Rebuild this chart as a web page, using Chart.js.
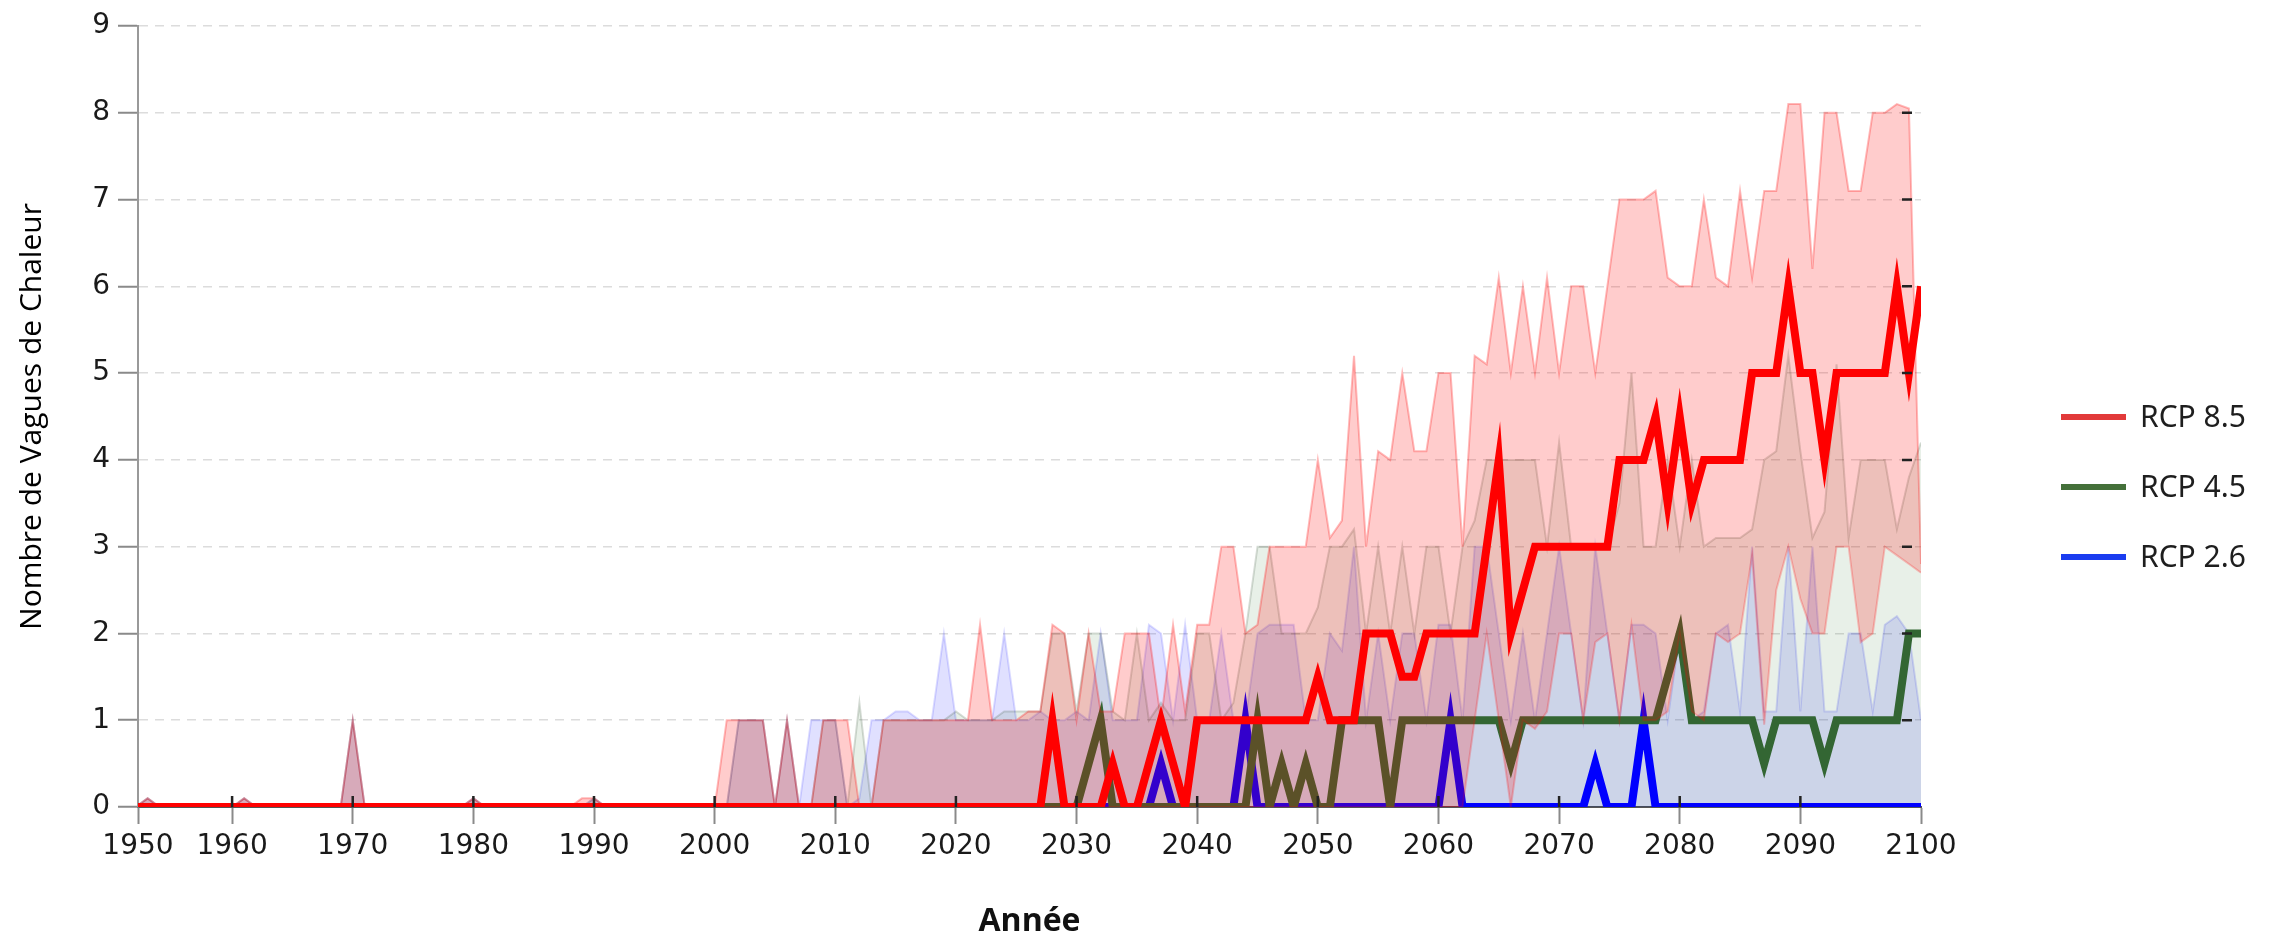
<!DOCTYPE html>
<html>
<head>
<meta charset="utf-8">
<script src="https://cdn.jsdelivr.net/npm/chart.js@4.4.1/dist/chart.umd.min.js"></script>
<style>
html,body{margin:0;padding:0;background:#fff;}
#wrap{width:2276px;height:936px;position:relative;}
</style>
</head>
<body>
<div id="wrap"><canvas id="c" width="2276" height="936"></canvas></div>
<script>
// ---------- DATA ----------
const firstYear = 1950, lastYear = 2100;
const years = [];
for (let y = firstYear; y <= lastYear; y++) years.push(y);

const xTickYears  = [1950,1960,1970,1980,1990,2000,2010,2020,2030,2040,2050,2060,2070,2080,2090,2100];
const xTickLabels = ['1950','1960','1970','1980','1990','2000','2010','2020','2030','2040','2050','2060','2070','2080','2090','2100'];
const yTickValues = [0,1,2,3,4,5,6,7,8,9];

const seriesNames = ['RCP 8.5','RCP 4.5','RCP 2.6'];

// RCP 8.5 : median, upper and lower envelope
const r85Med = [
0,0,0,0,0,0,0,0,0,0,
0,0,0,0,0,0,0,0,0,0,
0,0,0,0,0,0,0,0,0,0,
0,0,0,0,0,0,0,0,0,0,
0,0,0,0,0,0,0,0,0,0,
0,0,0,0,0,0,0,0,0,0,
0,0,0,0,0,0,0,0,0,0,
0,0,0,0,0,0,0,0,1,0,
0,0,0,0.5,0,0,0.5,1,0.5,0,
1,1,1,1,1,1,1,1,1,1,
1.5,1,1,1,2,2,2,1.5,1.5,2,
2,2,2,2,3,4,2,2.5,3,3,
3,3,3,3,3,4,4,4,4.5,3.5,
4.5,3.5,4,4,4,4,5,5,5,6,
5,5,4,5,5,5,5,5,6,5,
6];
const r85Max = [
0,0,0,0.1,0,0,0,0,0,0,
0,0.1,0,0,0,0,0,0,0,0,
1,0,0,0,0,0,0,0,0,0,
0.1,0,0,0,0,0,0,0,0,0.1,
0.1,0,0,0,0,0,0,0,0,0,
0,1,1,1,1,0,1,0,0,1,
1,1,0,0,1,1,1,1,1,1,
1,1,2.1,1,1,1,1.1,1.1,2.1,2,
1,2,1.1,1.1,2,2,2,1,2.1,1.1,
2.1,2.1,3,3,2,2.1,3,3,3,3,
4,3.1,3.3,5.2,3,4.1,4,5,4.1,4.1,
5,5,3,5.2,5.1,6.1,5,6,5,6.1,
5,6,6,5,6,7,7,7,7.1,6.1,
6,6,7,6.1,6,7.1,6.1,7.1,7.1,8.1,
8.1,6.2,8,8,7.1,7.1,8,8,8.1,8.05,
2.8];
const r85Min = [
0,0,0,0,0,0,0,0,0,0,
0,0,0,0,0,0,0,0,0,0,
0,0,0,0,0,0,0,0,0,0,
0,0,0,0,0,0,0,0,0,0,
0,0,0,0,0,0,0,0,0,0,
0,0,0,0,0,0,0,0,0,0,
0,0,0,0,0,0,0,0,0,0,
0,0,0,0,0,0,0,0,0,0,
0,0,0,0,0,0,0,0,0,0,
0,0,0,0,0,0,0,0,0,0,
0,0,0,0,0,0,0,0,0,0,
0,0,0,1,2,1,0,1,0.9,1.1,
2,2,1,1.9,2,1,2.1,1,1,1.1,
2,1.1,1,2,1.9,2,2.9,0.95,2.5,3,
2.4,2,2,3,3,1.9,2,3,2.9,2.8,
2.7];

// RCP 4.5 : median and upper envelope (lower envelope = 0)
const r45Med = [
0,0,0,0,0,0,0,0,0,0,
0,0,0,0,0,0,0,0,0,0,
0,0,0,0,0,0,0,0,0,0,
0,0,0,0,0,0,0,0,0,0,
0,0,0,0,0,0,0,0,0,0,
0,0,0,0,0,0,0,0,0,0,
0,0,0,0,0,0,0,0,0,0,
0,0,0,0,0,0,0,0,0,0,
0,0.5,1,0,0,0,0,0,0,0,
0,0,0,0,0,1,0,0.5,0,0.5,
0,0,1,1,1,1,0,1,1,1,
1,1,1,1,1,1,0.5,1,1,1,
1,1,1,1,1,1,1,1,1,1.5,
2,1,1,1,1,1,1,0.5,1,1,
1,1,0.5,1,1,1,1,1,1,2,
2];
const r45Max = [
0,0,0,0.1,0,0,0,0,0,0,
0,0.1,0,0,0,0,0,0,0,0,
1,0,0,0,0,0,0,0,0,0,
0.1,0,0,0,0,0,0,0,0,0,
0.1,0,0,0,0,0,0,0,0,0,
0,0,1,1,1,0,1,0,0,1,
1,0,1.2,0,1,1,1,1,1,1,
1.1,1,1,1,1.1,1.1,1.1,1.1,2,2,
1.1,2,2,1.1,1,2,1,1.2,1,1,
2,2,1,1.2,2,3,3,2,2,2,
2.3,3,3,3.2,2,3,2,3,2,3,
3,2,3,3.3,4,4,4,4,4,3,
4.2,3,3,3,3,3.5,5,3,3,4,
3,4,3,3.1,3.1,3.1,3.2,4,4.1,5.2,
4.1,3.1,3.4,5.1,3.1,4,4,4,3.2,3.8,
4.2];

// RCP 2.6 : median and upper envelope (lower envelope = 0)
const r26Med = [
0,0,0,0,0,0,0,0,0,0,
0,0,0,0,0,0,0,0,0,0,
0,0,0,0,0,0,0,0,0,0,
0,0,0,0,0,0,0,0,0,0,
0,0,0,0,0,0,0,0,0,0,
0,0,0,0,0,0,0,0,0,0,
0,0,0,0,0,0,0,0,0,0,
0,0,0,0,0,0,0,0,0,0,
0,0,0,0,0,0,0,0.5,0,0,
0,0,0,0,1,0,0,0,0,0,
0,0,0,0,0,0,0,0,0,0,
0,1,0,0,0,0,0,0,0,0,
0,0,0,0.5,0,0,0,1,0,0,
0,0,0,0,0,0,0,0,0,0,
0,0,0,0,0,0,0,0,0,0,
0];
const r26Max = [
0,0,0,0.1,0,0,0,0,0,0,
0,0.1,0,0,0,0,0,0,0,0,
1,0,0,0,0,0,0,0,0,0,
0.1,0,0,0,0,0,0,0,0,0,
0.1,0,0,0,0,0,0,0,0,0,
0,0,1,1,1,0,1,0,1,1,
1,0,0.1,1,1,1.1,1.1,1,1,2,
1,1,1,1,2,1,1,1.1,1,1,
1.1,1,2,1,1,1,2.1,2,1,2.1,
1,1,2,1,1,2,2.1,2.1,2.1,1,
1,2,1.8,3,1,2,1,2,2,1,
2.1,2.1,1,3,3,2,1,2,1,2,
3,2,1,3,2,1,2.1,2.1,2,1,
2,1,1.1,2,2.1,1.1,3,1.1,1.1,3,
1.1,3,1.1,1.1,2,2,1.1,2.1,2.2,2,
1];

// ---------- CHART ----------
const pts = arr => years.map((yr, i) => ({x: yr, y: arr[i]}));
const xMin = 1952.2, xMax = 2100;

const legendItems = [
  {label: seriesNames[0], color: '#e23a3a'},
  {label: seriesNames[1], color: '#44703a'},
  {label: seriesNames[2], color: '#1a3cf0'}
];

const sideLegend = {
  id: 'sideLegend',
  afterDraw(chart) {
    const ctx = chart.ctx;
    ctx.save();
    ctx.font = '30px "Noto Sans"';
    ctx.textBaseline = 'middle';
    ctx.textAlign = 'left';
    legendItems.forEach((it, i) => {
      const y = 417 + i * 70;
      ctx.strokeStyle = it.color;
      ctx.lineWidth = 6;
      ctx.beginPath(); ctx.moveTo(2061, y); ctx.lineTo(2126, y); ctx.stroke();
      ctx.fillStyle = '#1e1e1e';
      ctx.fillText(it.label, 2140, y + 1);
    });
    ctx.restore();
  }
};

const innerTicks = {
  id: 'innerTicks',
  afterDatasetsDraw(chart) {
    const ctx = chart.ctx, xs = chart.scales.x, ys = chart.scales.y, ca = chart.chartArea;
    ctx.save();
    ctx.strokeStyle = '#222';
    ctx.lineWidth = 2.5;
    ctx.beginPath();
    xTickYears.forEach(v => {
      if (v <= xMin || v >= xMax) return;
      const px = xs.getPixelForValue(v);
      ctx.moveTo(px, ca.bottom); ctx.lineTo(px, ca.bottom - 11);
    });
    yTickValues.forEach(v => {
      if (v <= 0 || v >= 9) return;
      const py = ys.getPixelForValue(v);
      ctx.moveTo(ca.right - 19, py); ctx.lineTo(ca.right - 9, py);
    });
    ctx.stroke();
    ctx.restore();
  }
};

new Chart(document.getElementById('c'), {
  type: 'line',
  data: {
    datasets: [
      { label: 'RCP 8.5', data: pts(r85Med), borderColor: '#ff0000', borderWidth: 8, pointRadius: 0, fill: false, order: 0 },
      { label: 'RCP 8.5 max', data: pts(r85Max), borderColor: 'rgba(255,0,0,0.27)', borderWidth: 2, pointRadius: 0,
        backgroundColor: 'rgba(255,0,0,0.2)', fill: '+1', order: 20 },
      { label: 'RCP 8.5 min', data: pts(r85Min), borderColor: 'rgba(255,0,0,0.22)', borderWidth: 2, pointRadius: 0, fill: false, order: 21 },
      { label: 'RCP 4.5', data: pts(r45Med), borderColor: '#336633', borderWidth: 8, pointRadius: 0, fill: false, order: 30 },
      { label: 'RCP 4.5 max', data: pts(r45Max), borderColor: 'rgba(50,80,50,0.2)', borderWidth: 2, pointRadius: 0,
        backgroundColor: 'rgba(0,90,0,0.09)', fill: 'origin', order: 50 },
      { label: 'RCP 2.6', data: pts(r26Med), borderColor: '#0000ff', borderWidth: 8, pointRadius: 0, fill: false, order: 40 },
      { label: 'RCP 2.6 max', data: pts(r26Max), borderColor: 'rgba(0,0,255,0.14)', borderWidth: 2, pointRadius: 0,
        backgroundColor: 'rgba(0,0,255,0.12)', fill: 'origin', order: 60 }
    ]
  },
  options: {
    responsive: false,
    animation: false,
    devicePixelRatio: 1,
    layout: { padding: { left: 10, top: 26, right: 355, bottom: 0 } },
    plugins: { legend: { display: false }, tooltip: { enabled: false } },
    elements: { line: { tension: 0 } },
    scales: {
      x: {
        type: 'linear', min: xMin, max: xMax,
        afterBuildTicks: s => { s.ticks = xTickYears.map(v => ({ value: Math.max(v, xMin) })); },
        afterFit: s => { s.height = 129; },
        ticks: { autoSkip: false, maxRotation: 0, padding: 6, color: '#1a1a1a',
                 font: { family: '"DejaVu Sans"', size: 28 },
                 callback: (v, i) => xTickLabels[i] },
        grid: { drawOnChartArea: false, drawTicks: true, tickLength: 17, tickColor: '#8a8a8a', tickWidth: 2 },
        border: { display: true, color: '#555', width: 2 },
        title: { display: true, text: 'Année', color: '#111',
                 font: { family: '"Open Sans"', size: 32, weight: '700', lineHeight: '28px' },
                 padding: { top: 0, bottom: 0 } }
      },
      y: {
        type: 'linear', min: 0, max: 9,
        afterBuildTicks: s => { s.ticks = yTickValues.map(v => ({ value: v })); },
        afterFit: s => { s.width = 128; },
        ticks: { padding: 8, color: '#1a1a1a', font: { family: '"DejaVu Sans"', size: 28 } },
        grid: { color: '#dcdcdc', lineWidth: 1.5, drawTicks: true, tickLength: 20,
                tickColor: '#8a8a8a', tickWidth: 2, tickBorderDash: [] },
        border: { display: true, color: '#999', width: 2, dash: [9, 7] },
        title: { display: true, text: 'Nombre de Vagues de Chaleur', color: '#000',
                 font: { family: '"Open Sans"', size: 30, lineHeight: '36px' },
                 padding: { top: 4, bottom: 0 } }
      }
    }
  },
  plugins: [innerTicks, sideLegend]
});
</script>
</body>
</html>
